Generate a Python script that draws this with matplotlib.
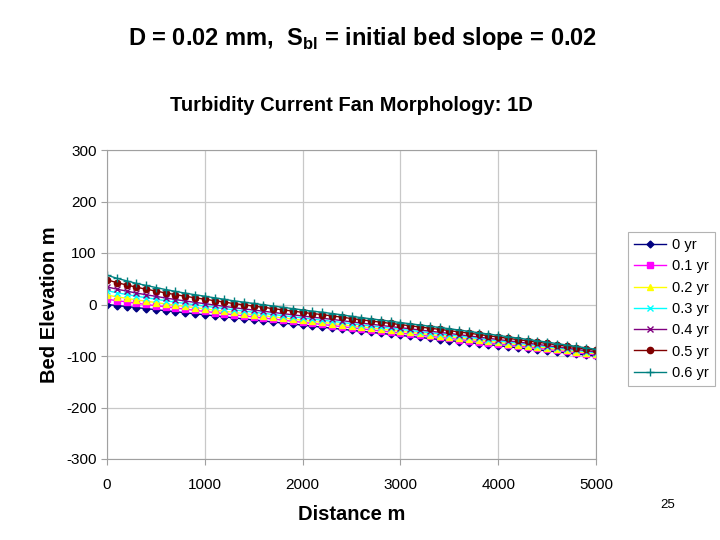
import matplotlib
matplotlib.use("Agg")
from matplotlib import pyplot as plt

plt.rcParams['font.family'] = ['Liberation Sans', 'DejaVu Sans']
plt.rcParams['mathtext.fontset'] = 'custom'
plt.rcParams['mathtext.rm'] = 'Liberation Sans'
plt.rcParams['mathtext.bf'] = 'Liberation Sans:bold'
plt.rcParams['axes.unicode_minus'] = False

# Distance along the fan, one point every 100 m
distance = list(range(0, 5001, 100))

labels = ['0 yr', '0.1 yr', '0.2 yr', '0.3 yr', '0.4 yr', '0.5 yr', '0.6 yr']

bed_0 = [0, -2, -4, -6, -8, -10, -12, -14, -16, -18, -20, -22, -24, -26, -28, -30,
         -32, -34, -36, -38, -40, -42, -44, -46, -48, -50, -52, -54, -56, -58, -60,
         -62, -64, -66, -68, -70, -72, -74, -76, -78, -80, -82, -84, -86, -88, -90,
         -92, -94, -96, -98, -100]
bed_01 = [10.3, 7.5, 5, 2.5, 0.1, -2.3, -4.6, -6.9, -9.2, -11.3, -13.5, -15.7, -17.9,
          -20.1, -22.1, -24.2, -26.3, -28.4, -30.5, -32.6, -34.7, -36.8, -38.8, -40.9,
          -43, -45.1, -47.2, -49.3, -51.4, -53.4, -55.5, -57.6, -59.6, -61.7, -63.8,
          -65.9, -68, -70.1, -72.2, -74.3, -76.4, -78.5, -80.6, -82.7, -84.8, -86.9,
          -89.1, -91.2, -93.4, -95.5, -97.7]
bed_02 = [18.2, 15, 12, 9, 6.4, 3.8, 1.1, -1.4, -3.8, -6.2, -8.5, -10.8, -13.1, -15.4,
          -17.6, -19.8, -21.9, -24.1, -26.2, -28.4, -30.6, -32.7, -34.7, -36.9, -39,
          -41.4, -43.5, -45.6, -47.7, -49.9, -52, -54.1, -56.3, -58.4, -60.5, -62.6,
          -64.8, -67, -69.2, -71.4, -73.6, -75.8, -78, -80.2, -82.4, -84.6, -86.8,
          -89.1, -91.3, -93.6, -95.8]
bed_03 = [26.8, 22.9, 19.5, 16.1, 13.2, 10.2, 7.3, 4.6, 1.9, -0.6, -3.1, -5.5, -8,
          -10.5, -12.7, -15, -17.2, -19.4, -21.7, -23.9, -26.1, -28.4, -30.4, -32.6,
          -34.8, -37.3, -39.5, -41.7, -43.9, -46.1, -48.2, -50.4, -52.6, -54.8, -57,
          -59.2, -61.5, -63.8, -66, -68.3, -70.6, -72.9, -75.2, -77.4, -79.7, -82,
          -84.4, -86.8, -89.1, -91.5, -93.9]
bed_04 = [34.2, 29.8, 26, 22.2, 19, 15.8, 12.6, 9.7, 6.8, 4.2, 1.6, -1, -3.6, -6.2,
          -8.5, -10.8, -13.1, -15.4, -17.7, -20, -22.3, -24.6, -26.6, -28.9, -31.2,
          -33.8, -36, -38.3, -40.5, -42.8, -45, -47.2, -49.5, -51.7, -54, -56.2,
          -58.6, -60.9, -63.3, -65.6, -68, -70.4, -72.7, -75.1, -77.4, -79.8, -82.3,
          -84.8, -87.2, -89.7, -92.2]
bed_05 = [47.9, 42.5, 38, 33.5, 29.8, 26.1, 22.4, 19.2, 15.9, 13.1, 10.2, 7.4, 4.6,
          1.7, -0.7, -3.1, -5.5, -8, -10.4, -12.8, -15.2, -17.6, -19.6, -22.1, -24.5,
          -27.3, -29.7, -32, -34.3, -36.7, -39, -41.3, -43.7, -46, -48.3, -50.7,
          -53.2, -55.7, -58.2, -60.7, -63.2, -65.7, -68.2, -70.7, -73.2, -75.7,
          -78.4, -81.1, -83.7, -86.4, -89.1]
bed_06 = [57, 51, 46, 41, 37, 33, 29, 25.5, 22, 19, 16, 13, 10, 7, 4.5, 2, -0.5, -3,
          -5.5, -8, -10.5, -13, -15, -17.5, -20, -23, -25.4, -27.8, -30.2, -32.6, -35,
          -37.4, -39.8, -42.2, -44.6, -47, -49.6, -52.2, -54.8, -57.4, -60, -62.6,
          -65.2, -67.8, -70.4, -73, -75.8, -78.6, -81.4, -84.2, -87]

series = [bed_0, bed_01, bed_02, bed_03, bed_04, bed_05, bed_06]
colors = ['#000080', '#FF00FF', '#FFFF00', '#00FFFF', '#800080', '#800000', '#008080']
markers = ['D', 's', '^', 'x', 'x', 'o', '+']
msizes = [3.5, 4, 4.5, 4.5, 4.5, 4.5, 6]

fig = plt.figure(figsize=(7.2, 5.4), dpi=100)
fig.patch.set_facecolor('white')
ax = fig.add_axes([107 / 720, 1 - 459 / 540, 489 / 720, 309 / 540])

for vals, lab, c, m, ms in zip(series, labels, colors, markers, msizes):
    ax.plot(distance, vals, color=c, marker=m, markersize=ms, linewidth=1,
            markeredgewidth=1, label=lab)

ax.set_xlim(0, 5000)
ax.set_ylim(-300, 300)
ax.set_xticks(range(0, 5001, 1000))
ax.set_yticks(range(-300, 301, 100))
ax.grid(True, color='#c8c8c8', linewidth=0.9)
ax.set_axisbelow(True)
for s in ax.spines.values():
    s.set_color('#a0a0a0')
ax.tick_params(colors='#a0a0a0', labelcolor='black', labelsize=11, length=4)
ax.tick_params(axis='x', pad=10)

ax.set_xlabel('Distance m', fontsize=14.5, fontweight='bold', labelpad=9)
ax.set_ylabel('Bed Elevation m', fontsize=14.5, fontweight='bold', labelpad=5)
ax.set_title('Turbidity Current Fan Morphology: 1D', fontsize=14.5,
             fontweight='bold', pad=28)

leg = fig.legend(loc='upper left', bbox_to_anchor=(621 / 720, 1 - 225 / 540),
                 fontsize=10.5, frameon=True, fancybox=False, handlelength=2.2,
                 borderpad=0.4, labelspacing=0.5, handletextpad=0.4)
leg.get_frame().set_edgecolor('#a0a0a0')
leg.get_frame().set_linewidth(0.8)

fig.text(363 / 720, 1 - 38 / 540,
         r'D = 0.02 mm,  S$_\mathbf{bl}$ = initial bed slope = 0.02',
         fontsize=17, fontweight='bold', ha='center', va='center')
fig.text(668 / 720, 1 - 505 / 540, '25', fontsize=9.5, ha='center', va='center')

fig.savefig('out.png', dpi=100)
